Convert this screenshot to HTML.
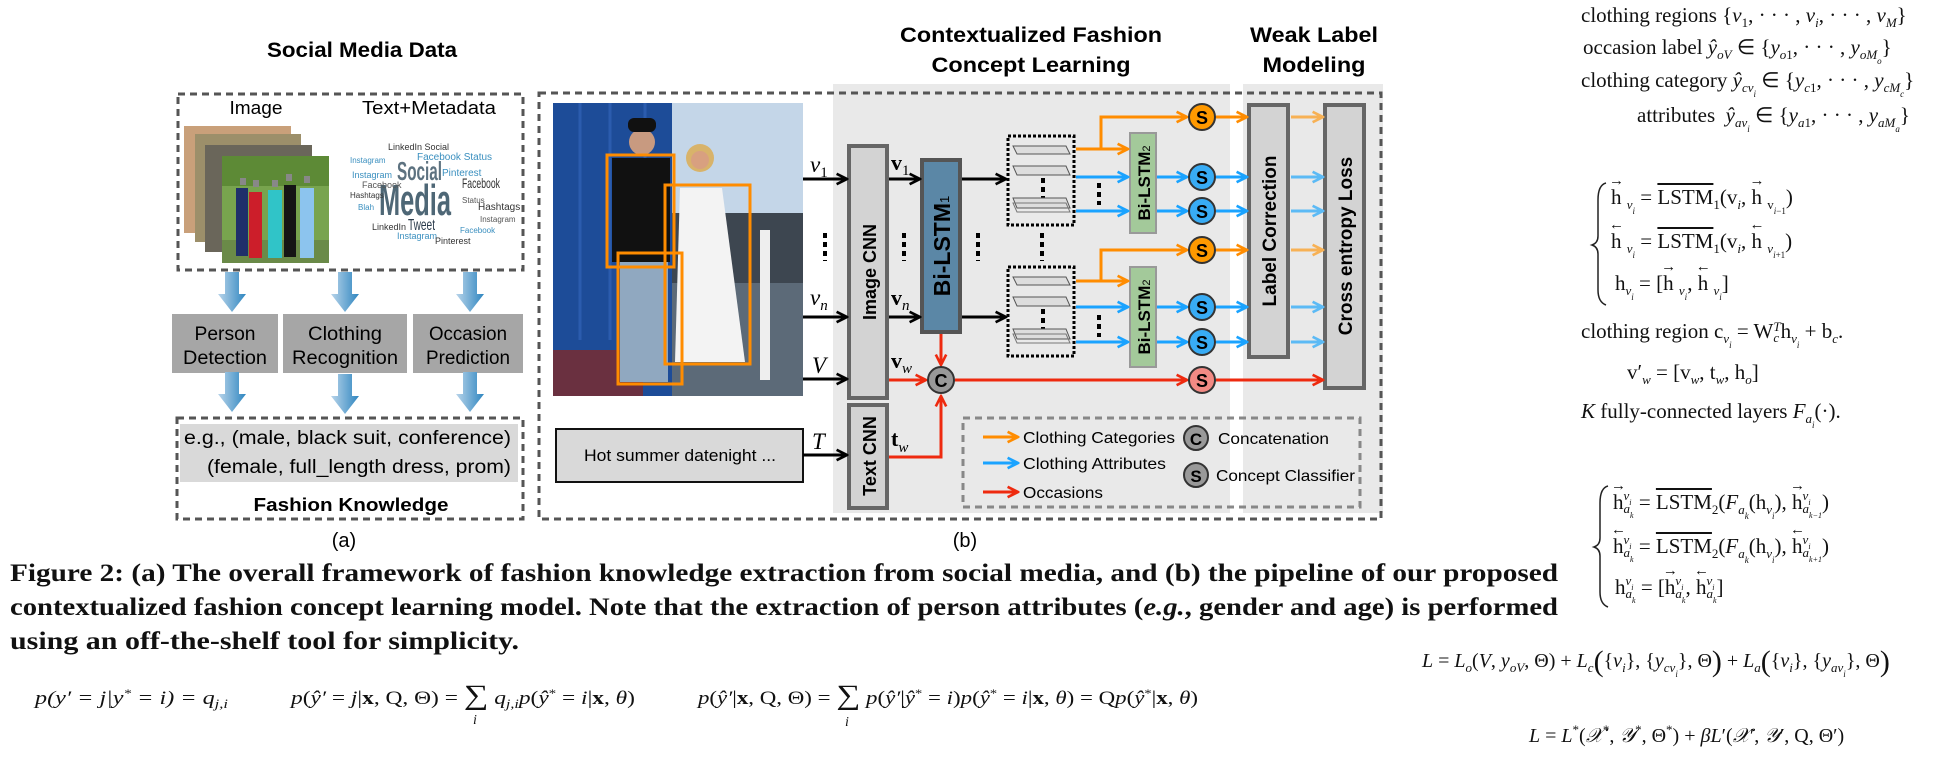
<!DOCTYPE html>
<html><head><meta charset="utf-8">
<style>
html,body{margin:0;padding:0;background:#fff;}
body{width:1956px;height:760px;position:relative;overflow:hidden;font-family:"Liberation Serif",serif;}
svg{position:absolute;left:0;top:0;}
.m{position:absolute;font-family:"Liberation Serif",serif;font-size:21px;color:#111;white-space:nowrap;line-height:1;}
.m sub{font-size:13px;vertical-align:-5px;line-height:0;}
.m sup{font-size:13px;vertical-align:8px;line-height:0;}
.ss{display:inline-block;vertical-align:-4px;line-height:11px;font-size:13px;font-style:italic;text-align:left;}
.v{position:relative;display:inline-block;}
.v::before{content:"\2192";position:absolute;left:-2px;top:-13px;font-size:15px;}
.lv{position:relative;display:inline-block;}
.lv::before{content:"\2190";position:absolute;left:-2px;top:-13px;font-size:15px;}
.ol{text-decoration:overline;}
</style></head>
<body>
<svg width="1956" height="760" viewBox="0 0 1956 760" xmlns="http://www.w3.org/2000/svg" font-family="Liberation Sans, Arial, sans-serif">
<defs>
<linearGradient id="bg" x1="0" x2="1" y1="0" y2="0"><stop offset="0" stop-color="#b8d4ea"/><stop offset="1" stop-color="#2f86c0"/></linearGradient>
<marker id="mk" viewBox="0 0 10 10" refX="9" refY="5" markerWidth="13" markerHeight="13" markerUnits="userSpaceOnUse" orient="auto"><path d="M1,1 L9,5 L1,9" fill="none" stroke="#000" stroke-width="2"/></marker>
<marker id="mr" viewBox="0 0 10 10" refX="9" refY="5" markerWidth="13" markerHeight="13" markerUnits="userSpaceOnUse" orient="auto"><path d="M1,1 L9,5 L1,9" fill="none" stroke="#ee2a0f" stroke-width="2"/></marker>
<marker id="mo" viewBox="0 0 10 10" refX="9" refY="5" markerWidth="13" markerHeight="13" markerUnits="userSpaceOnUse" orient="auto"><path d="M1,1 L9,5 L1,9" fill="none" stroke="#ff8c00" stroke-width="2"/></marker>
<marker id="mbl" viewBox="0 0 10 10" refX="9" refY="5" markerWidth="13" markerHeight="13" markerUnits="userSpaceOnUse" orient="auto"><path d="M1,1 L9,5 L1,9" fill="none" stroke="#1aa3ff" stroke-width="2"/></marker>
<marker id="mlo" viewBox="0 0 10 10" refX="9" refY="5" markerWidth="13" markerHeight="13" markerUnits="userSpaceOnUse" orient="auto"><path d="M1,1 L9,5 L1,9" fill="none" stroke="#f7b155" stroke-width="2"/></marker>
<marker id="mlb" viewBox="0 0 10 10" refX="9" refY="5" markerWidth="13" markerHeight="13" markerUnits="userSpaceOnUse" orient="auto"><path d="M1,1 L9,5 L1,9" fill="none" stroke="#5cbaf5" stroke-width="2"/></marker>
</defs>

<!-- ===== (a) ===== -->
<text x="362" y="57" text-anchor="middle" font-size="21" font-weight="bold" textLength="190" lengthAdjust="spacingAndGlyphs">Social Media Data</text>
<rect x="178" y="94" width="345" height="176" fill="none" stroke="#555" stroke-width="3" stroke-dasharray="7,5"/>
<text x="256" y="114" text-anchor="middle" font-size="18" textLength="53" lengthAdjust="spacingAndGlyphs">Image</text>
<text x="429" y="114" text-anchor="middle" font-size="18" textLength="134" lengthAdjust="spacingAndGlyphs">Text+Metadata</text>
<g>
<rect x="184" y="126" width="107" height="107" fill="#c9a07a"/>
<rect x="195" y="134" width="106" height="108" fill="#9c8f6a"/>
<rect x="205" y="145" width="107" height="107" fill="#6a665a"/>
<rect x="222" y="156" width="107" height="107" fill="#78a44e"/>
<rect x="222" y="156" width="107" height="30" fill="#5d8a36"/>
<rect x="222" y="240" width="107" height="23" fill="#6a8a48"/>
<rect x="236" y="188" width="12" height="68" fill="#1f2f6a"/>
<rect x="249" y="192" width="13" height="66" fill="#cc1e2a"/>
<rect x="268" y="190" width="14" height="68" fill="#30c4c8"/>
<rect x="284" y="185" width="12" height="72" fill="#151515"/>
<rect x="300" y="188" width="14" height="70" fill="#8cc4ee"/>
<rect x="240" y="178" width="6" height="7" fill="#888"/><rect x="253" y="180" width="6" height="7" fill="#888"/><rect x="272" y="180" width="6" height="7" fill="#888"/><rect x="286" y="174" width="6" height="7" fill="#888"/><rect x="304" y="176" width="6" height="7" fill="#888"/>
</g>
<g font-family="Liberation Sans Narrow, Liberation Sans, sans-serif">
<text x="397" y="180" font-size="26" font-weight="bold" fill="#5d7280" textLength="45" lengthAdjust="spacingAndGlyphs">Social</text>
<text x="379" y="215" font-size="44" font-weight="bold" fill="#4e6776" textLength="72" lengthAdjust="spacingAndGlyphs">Media</text>
<text x="462" y="188" font-size="14" fill="#333" textLength="38" lengthAdjust="spacingAndGlyphs">Facebook</text>
<text x="408" y="230" font-size="16" fill="#2a3a4a" textLength="27" lengthAdjust="spacingAndGlyphs">Tweet</text>
<text x="388" y="150" font-size="9" fill="#333">LinkedIn Social</text>
<text x="417" y="160" font-size="10" fill="#3a8fbf">Facebook Status</text>
<text x="442" y="176" font-size="10" fill="#3a8fbf">Pinterest</text>
<text x="350" y="163" font-size="8" fill="#3a8fbf">Instagram</text>
<text x="352" y="178" font-size="9" fill="#3a8fbf">Instagram</text>
<text x="362" y="188" font-size="9" fill="#555">Facebook</text>
<text x="350" y="198" font-size="8" fill="#333">Hashtags</text>
<text x="478" y="210" font-size="10" fill="#333">Hashtags</text>
<text x="372" y="230" font-size="9" fill="#333">LinkedIn</text>
<text x="397" y="239" font-size="9" fill="#3a8fbf">Instagram</text>
<text x="435" y="244" font-size="9" fill="#333">Pinterest</text>
<text x="462" y="203" font-size="8" fill="#555">Status</text>
<text x="480" y="222" font-size="8" fill="#555">Instagram</text>
<text x="460" y="233" font-size="8" fill="#3a8fbf">Facebook</text>
<text x="358" y="210" font-size="8" fill="#3a8fbf">Blah</text>
</g>
<g fill="url(#bg)">
<polygon points="225,272 239,272 239,294 246,294 232,312 218,294 225,294"/>
<polygon points="338,272 352,272 352,294 359,294 345,312 331,294 338,294"/>
<polygon points="463,272 477,272 477,294 484,294 470,312 456,294 463,294"/>
</g>
<g><rect x="172" y="314" width="106" height="59" fill="#a6a6a6"/>
<text x="225" y="340" text-anchor="middle" font-size="19" textLength="61" lengthAdjust="spacingAndGlyphs">Person</text><text x="225" y="364" text-anchor="middle" font-size="19" textLength="84" lengthAdjust="spacingAndGlyphs">Detection</text></g>
<g><rect x="283" y="314" width="124" height="59" fill="#a6a6a6"/>
<text x="345" y="340" text-anchor="middle" font-size="19" textLength="74" lengthAdjust="spacingAndGlyphs">Clothing</text><text x="345" y="364" text-anchor="middle" font-size="19" textLength="106" lengthAdjust="spacingAndGlyphs">Recognition</text></g>
<g><rect x="413" y="314" width="110" height="59" fill="#a6a6a6"/>
<text x="468" y="340" text-anchor="middle" font-size="19" textLength="78" lengthAdjust="spacingAndGlyphs">Occasion</text><text x="468" y="364" text-anchor="middle" font-size="19" textLength="84" lengthAdjust="spacingAndGlyphs">Prediction</text></g>
<g fill="url(#bg)">
<polygon points="225,372 239,372 239,394 246,394 232,412 218,394 225,394"/>
<polygon points="338,374 352,374 352,396 359,396 345,414 331,396 338,396"/>
<polygon points="463,372 477,372 477,394 484,394 470,412 456,394 463,394"/>
</g>
<rect x="177" y="418" width="346" height="101" fill="none" stroke="#555" stroke-width="3" stroke-dasharray="7,5"/>
<rect x="180" y="424" width="338" height="58" fill="#d9d9d9"/>
<text x="184" y="444" font-size="19" textLength="327" lengthAdjust="spacingAndGlyphs">e.g., (male, black suit, conference)</text>
<text x="207" y="473" font-size="19" textLength="304" lengthAdjust="spacingAndGlyphs">(female, full_length dress, prom)</text>
<text x="351" y="511" text-anchor="middle" font-size="18" font-weight="bold" textLength="195" lengthAdjust="spacingAndGlyphs">Fashion Knowledge</text>
<text x="344" y="547" text-anchor="middle" font-size="20">(a)</text>

<!-- ===== (b) ===== -->
<rect x="833" y="84" width="397" height="429" fill="#e9e9e9"/>
<rect x="1243" y="84" width="140" height="429" fill="#e9e9e9"/>
<rect x="539" y="93" width="842" height="426" fill="none" stroke="#555" stroke-width="3" stroke-dasharray="7,5"/>
<text text-anchor="middle" font-size="21" font-weight="bold"><tspan x="1031" y="42" textLength="262" lengthAdjust="spacingAndGlyphs">Contextualized Fashion</tspan><tspan x="1031" y="72" textLength="199" lengthAdjust="spacingAndGlyphs">Concept Learning</tspan></text>
<text text-anchor="middle" font-size="21" font-weight="bold"><tspan x="1314" y="42" textLength="128" lengthAdjust="spacingAndGlyphs">Weak Label</tspan><tspan x="1314" y="72" textLength="103" lengthAdjust="spacingAndGlyphs">Modeling</tspan></text>

<g>
<rect x="553" y="103" width="250" height="293" fill="#8aa6c4"/>
<rect x="672" y="103" width="131" height="110" fill="#c4d6e8"/>
<rect x="672" y="213" width="131" height="70" fill="#3d4650"/>
<rect x="672" y="283" width="131" height="113" fill="#5c6a78"/>
<rect x="553" y="103" width="119" height="293" fill="#1d4c98"/>
<rect x="553" y="350" width="90" height="46" fill="#6a3040"/>
<line x1="580" y1="103" x2="580" y2="340" stroke="#2b5cae" stroke-width="3"/><line x1="610" y1="103" x2="610" y2="340" stroke="#2b5cae" stroke-width="3"/><line x1="645" y1="103" x2="645" y2="340" stroke="#2b5cae" stroke-width="3"/>
<rect x="760" y="230" width="10" height="150" fill="#eee"/>
<circle cx="642" cy="142" r="13" fill="#c89a80"/><rect x="628" y="118" width="28" height="14" rx="6" fill="#111"/>
<rect x="612" y="158" width="58" height="104" fill="#111"/>
<rect x="620" y="262" width="48" height="120" fill="#90a8c0"/>
<circle cx="700" cy="158" r="14" fill="#d8b36a"/><circle cx="700" cy="160" r="9" fill="#d8a080"/>
<path d="M680,188 L722,188 L745,362 L675,362 Z" fill="#f3f3f3"/>
</g>
<g fill="none" stroke="#ff8c00" stroke-width="3">
<rect x="607" y="155" width="67" height="112"/>
<rect x="618" y="253" width="64" height="131"/>
<rect x="665" y="185" width="85" height="179"/>
</g>
<g><rect x="556" y="429" width="247" height="53" fill="#d9d9d9" stroke="#111" stroke-width="2"/>
<text x="680" y="461" text-anchor="middle" font-size="17" textLength="192" lengthAdjust="spacingAndGlyphs">Hot summer datenight ...</text></g>

<g font-family="Liberation Serif, serif" font-style="italic" font-size="23">
<text x="810" y="172">v<tspan font-size="15" dy="5" font-style="normal">1</tspan></text>
<text x="810" y="305">v<tspan font-size="15" dy="5">n</tspan></text>
<text x="812" y="373">V</text>
<text x="812" y="449">T</text>
</g>
<g font-family="Liberation Serif, serif" font-size="22" font-weight="bold">
<text x="891" y="170">v<tspan font-size="15" dy="5" font-weight="normal">1</tspan></text>
<text x="891" y="305">v<tspan font-size="15" dy="5" font-weight="normal" font-style="italic">n</tspan></text>
<text x="891" y="368">v<tspan font-size="15" dy="5" font-weight="normal" font-style="italic">w</tspan></text>
<text x="891" y="446">t<tspan font-size="15" dy="6" font-weight="normal" font-style="italic">w</tspan></text>
</g>

<g stroke="#000" stroke-width="4" stroke-dasharray="5,4">
<line x1="825" y1="233" x2="825" y2="261"/><line x1="904" y1="233" x2="904" y2="261"/><line x1="978" y1="233" x2="978" y2="261"/><line x1="1042" y1="233" x2="1042" y2="261"/>
<line x1="1099" y1="183" x2="1099" y2="205"/><line x1="1099" y1="315" x2="1099" y2="337"/>
<line x1="1043" y1="178" x2="1043" y2="198"/><line x1="1043" y1="309" x2="1043" y2="329"/>
</g>

<g><rect x="849" y="146" width="38" height="252" fill="#d3d3d3" stroke="#666" stroke-width="4"/>
<text transform="translate(876,272) rotate(-90)" text-anchor="middle" font-size="18" font-weight="bold">Image CNN</text></g>
<g><rect x="849" y="405" width="38" height="103" fill="#d3d3d3" stroke="#666" stroke-width="4"/>
<text transform="translate(876,456) rotate(-90)" text-anchor="middle" font-size="18" font-weight="bold">Text CNN</text></g>
<g><rect x="922" y="160" width="38" height="172" fill="#5b87a6" stroke="#555" stroke-width="4"/>
<text transform="translate(950,246) rotate(-90)" text-anchor="middle" font-size="23" font-weight="bold">Bi-LSTM<tspan font-size="13" font-weight="normal" dy="-1">1</tspan></text></g>

<g>
<rect x="1008" y="136" width="66" height="89" fill="none" stroke="#000" stroke-width="3" stroke-dasharray="3,2"/>
<polygon points="1017,154 1070,154 1066,146 1013,146" fill="#ddd" stroke="#555"/>
<polygon points="1017,175 1070,175 1066,166 1013,166" fill="#ddd" stroke="#555"/>
<polygon points="1017,208 1070,208 1066,198 1013,198" fill="#ddd" stroke="#555"/>
<polygon points="1017,212 1070,212 1066,203 1013,203" fill="none" stroke="#777"/>
</g>
<g>
<rect x="1008" y="267" width="66" height="89" fill="none" stroke="#000" stroke-width="3" stroke-dasharray="3,2"/>
<polygon points="1017,285 1070,285 1066,277 1013,277" fill="#ddd" stroke="#555"/>
<polygon points="1017,306 1070,306 1066,297 1013,297" fill="#ddd" stroke="#555"/>
<polygon points="1017,339 1070,339 1066,329 1013,329" fill="#ddd" stroke="#555"/>
<polygon points="1017,343 1070,343 1066,334 1013,334" fill="none" stroke="#777"/>
</g>
<g><rect x="1130" y="133" width="26" height="100" fill="#a3c99a" stroke="#999" stroke-width="2"/>
<text transform="translate(1150,183) rotate(-90)" text-anchor="middle" font-size="17" font-weight="bold">Bi-LSTM<tspan font-size="11" font-weight="normal">2</tspan></text></g>
<g><rect x="1130" y="267" width="26" height="100" fill="#a3c99a" stroke="#999" stroke-width="2"/>
<text transform="translate(1150,317) rotate(-90)" text-anchor="middle" font-size="17" font-weight="bold">Bi-LSTM<tspan font-size="11" font-weight="normal">2</tspan></text></g>
<g><rect x="1249" y="105" width="39" height="252" fill="#d3d3d3" stroke="#666" stroke-width="4"/>
<text transform="translate(1276,231) rotate(-90)" text-anchor="middle" font-size="19" font-weight="bold">Label Correction</text></g>
<g><rect x="1325" y="105" width="39" height="283" fill="#d3d3d3" stroke="#666" stroke-width="4"/>
<text transform="translate(1352,246) rotate(-90)" text-anchor="middle" font-size="19" font-weight="bold">Cross entropy Loss</text></g>

<!-- arrows -->
<g stroke="#000" stroke-width="3" fill="none" marker-end="url(#mk)">
<line x1="803" y1="179" x2="847" y2="179"/><line x1="803" y1="317" x2="847" y2="317"/><line x1="803" y1="379" x2="847" y2="379"/><line x1="803" y1="455" x2="847" y2="455"/>
<line x1="889" y1="179" x2="920" y2="179"/><line x1="889" y1="317" x2="920" y2="317"/>
<line x1="962" y1="179" x2="1006" y2="179"/><line x1="962" y1="317" x2="1006" y2="317"/>
</g>
<g stroke="#ee2a0f" stroke-width="3" fill="none" marker-end="url(#mr)">
<line x1="889" y1="380" x2="926" y2="380"/><line x1="941" y1="334" x2="941" y2="365"/>
<path d="M889,457 H941 V396"/><line x1="955" y1="380" x2="1187" y2="380"/><line x1="1216" y1="380" x2="1323" y2="380"/>
</g>
<g stroke="#ff8c00" stroke-width="3" fill="none" marker-end="url(#mo)">
<line x1="1076" y1="149" x2="1128" y2="149"/><path d="M1101,149 V117 H1187"/><line x1="1216" y1="117" x2="1247" y2="117"/>
<line x1="1076" y1="281" x2="1128" y2="281"/><path d="M1101,281 V250 H1187"/><line x1="1216" y1="250" x2="1247" y2="250"/>
</g>
<g stroke="#1aa3ff" stroke-width="3" fill="none" marker-end="url(#mbl)">
<line x1="1076" y1="177" x2="1128" y2="177"/><line x1="1076" y1="211" x2="1128" y2="211"/><line x1="1076" y1="307" x2="1128" y2="307"/><line x1="1076" y1="342" x2="1128" y2="342"/>
<line x1="1157" y1="177" x2="1187" y2="177"/><line x1="1157" y1="211" x2="1187" y2="211"/><line x1="1157" y1="307" x2="1187" y2="307"/><line x1="1157" y1="342" x2="1187" y2="342"/>
<line x1="1216" y1="177" x2="1247" y2="177"/><line x1="1216" y1="211" x2="1247" y2="211"/><line x1="1216" y1="307" x2="1247" y2="307"/><line x1="1216" y1="342" x2="1247" y2="342"/>
</g>
<g stroke-width="3" fill="none">
<line x1="1291" y1="117" x2="1323" y2="117" stroke="#f7b155" marker-end="url(#mlo)"/><line x1="1291" y1="250" x2="1323" y2="250" stroke="#f7b155" marker-end="url(#mlo)"/>
<line x1="1291" y1="177" x2="1323" y2="177" stroke="#5cbaf5" marker-end="url(#mlb)"/><line x1="1291" y1="211" x2="1323" y2="211" stroke="#5cbaf5" marker-end="url(#mlb)"/>
<line x1="1291" y1="307" x2="1323" y2="307" stroke="#5cbaf5" marker-end="url(#mlb)"/><line x1="1291" y1="342" x2="1323" y2="342" stroke="#5cbaf5" marker-end="url(#mlb)"/>
</g>
<g><circle cx="941" cy="380" r="13" fill="#999" stroke="#333" stroke-width="2"/><text x="941" y="387" text-anchor="middle" font-size="18" font-weight="bold">C</text></g>
<g stroke="#333" stroke-width="2" font-size="18" font-weight="bold" text-anchor="middle">
<circle cx="1202" cy="117" r="13" fill="#ff9900"/><circle cx="1202" cy="177" r="13" fill="#38acf5"/><circle cx="1202" cy="211" r="13" fill="#38acf5"/>
<circle cx="1202" cy="250" r="13" fill="#ff9900"/><circle cx="1202" cy="307" r="13" fill="#38acf5"/><circle cx="1202" cy="342" r="13" fill="#38acf5"/><circle cx="1202" cy="380" r="13" fill="#f28a84"/>
<g stroke="none"><text x="1202" y="124">S</text><text x="1202" y="184">S</text><text x="1202" y="218">S</text><text x="1202" y="257">S</text><text x="1202" y="314">S</text><text x="1202" y="349">S</text><text x="1202" y="387">S</text></g>
</g>

<g>
<rect x="963" y="418" width="397" height="89" fill="none" stroke="#888" stroke-width="3" stroke-dasharray="7,5"/>
<line x1="983" y1="437" x2="1018" y2="437" stroke="#ff8c00" stroke-width="3" marker-end="url(#mo)"/>
<line x1="983" y1="463" x2="1018" y2="463" stroke="#1aa3ff" stroke-width="3" marker-end="url(#mbl)"/>
<line x1="983" y1="492" x2="1018" y2="492" stroke="#ee2a0f" stroke-width="3" marker-end="url(#mr)"/>
<text x="1023" y="443" font-size="16" textLength="152" lengthAdjust="spacingAndGlyphs">Clothing Categories</text>
<text x="1023" y="469" font-size="16" textLength="143" lengthAdjust="spacingAndGlyphs">Clothing Attributes</text>
<text x="1023" y="498" font-size="16" textLength="80" lengthAdjust="spacingAndGlyphs">Occasions</text>
<circle cx="1196" cy="438" r="12" fill="#999" stroke="#333" stroke-width="2"/><text x="1196" y="445" text-anchor="middle" font-size="17" font-weight="bold">C</text>
<circle cx="1196" cy="475" r="12" fill="#999" stroke="#333" stroke-width="2"/><text x="1196" y="482" text-anchor="middle" font-size="17" font-weight="bold">S</text>
<text x="1218" y="444" font-size="16" textLength="111" lengthAdjust="spacingAndGlyphs">Concatenation</text>
<text x="1216" y="481" font-size="16" textLength="139" lengthAdjust="spacingAndGlyphs">Concept Classifier</text>
</g>
<text x="965" y="547" text-anchor="middle" font-size="20">(b)</text>

<!-- caption -->
<g font-family="Liberation Serif, serif" font-weight="bold" font-size="25" fill="#111">
<text x="10" y="581" textLength="1548" lengthAdjust="spacingAndGlyphs">Figure 2: (a) The overall framework of fashion knowledge extraction from social media, and (b) the pipeline of our proposed</text>
<text x="10" y="615" textLength="1548" lengthAdjust="spacingAndGlyphs">contextualized fashion concept learning model. Note that the extraction of person attributes (<tspan font-style="italic">e.g.</tspan>, gender and age) is performed</text>
<text x="10" y="649" textLength="509" lengthAdjust="spacingAndGlyphs">using an off-the-shelf tool for simplicity.</text>
</g>

<!-- bottom formulas -->
<g font-family="Liberation Serif, serif" font-size="19" fill="#111">
<text x="35" y="704" font-style="italic" textLength="193" lengthAdjust="spacingAndGlyphs">p(y′ = j|y<tspan font-size="12" dy="-7">*</tspan><tspan dy="7"> = i) = q</tspan><tspan font-size="13" dy="4">j,i</tspan></text>
<text x="291" y="704" textLength="344" lengthAdjust="spacingAndGlyphs"><tspan font-style="italic">p</tspan>(<tspan font-style="italic">ŷ′</tspan> = <tspan font-style="italic">j</tspan>|<tspan font-weight="bold">x</tspan>, Q, Θ) = <tspan font-size="28">∑</tspan> <tspan font-style="italic">q</tspan><tspan font-size="13" dy="4" font-style="italic">j,i</tspan><tspan dy="-4" font-style="italic">p</tspan>(<tspan font-style="italic">ŷ</tspan><tspan font-size="12" dy="-7">*</tspan><tspan dy="7"> = </tspan><tspan font-style="italic">i</tspan>|<tspan font-weight="bold">x</tspan>, <tspan font-style="italic">θ</tspan>)</text>
<text x="473" y="724" font-style="italic" font-size="14">i</text>
<text x="698" y="704" textLength="500" lengthAdjust="spacingAndGlyphs"><tspan font-style="italic">p</tspan>(<tspan font-style="italic">ŷ′</tspan>|<tspan font-weight="bold">x</tspan>, Q, Θ) = <tspan font-size="28">∑</tspan> <tspan font-style="italic">p</tspan>(<tspan font-style="italic">ŷ′</tspan>|<tspan font-style="italic">ŷ</tspan><tspan font-size="12" dy="-7">*</tspan><tspan dy="7"> = </tspan><tspan font-style="italic">i</tspan>)<tspan font-style="italic">p</tspan>(<tspan font-style="italic">ŷ</tspan><tspan font-size="12" dy="-7">*</tspan><tspan dy="7"> = </tspan><tspan font-style="italic">i</tspan>|<tspan font-weight="bold">x</tspan>, <tspan font-style="italic">θ</tspan>) = Q<tspan font-style="italic">p</tspan>(<tspan font-style="italic">ŷ</tspan><tspan font-size="12" dy="-7">*</tspan><tspan dy="7">|</tspan><tspan font-weight="bold">x</tspan>, <tspan font-style="italic">θ</tspan>)</text>
<text x="845" y="726" font-style="italic" font-size="14">i</text>
</g>

<!-- braces -->
<g fill="none" stroke="#222" stroke-width="1.5">
<path d="M1606,183 Q1598,185 1598,200 L1598,236 Q1598,243 1592,245 Q1598,247 1598,254 L1598,290 Q1598,302 1606,305"/>
<path d="M1608,486 Q1600,488 1600,503 L1600,538 Q1600,545 1594,547 Q1600,549 1600,556 L1600,592 Q1600,604 1608,607"/>
</g>
</svg>

<!-- right-side math -->
<div class="m" style="left:1581px;top:5px;">clothing regions {<i>v</i><sub>1</sub>, · · · , <i>v<sub>i</sub></i>, · · · , <i>v<sub>M</sub></i>}</div>
<div class="m" style="left:1583px;top:37px;">occasion label <i>ŷ<sub>oV</sub></i> ∈ {<i>y</i><sub><i>o</i>1</sub>, · · · , <i>y</i><sub><i>oM<sub style="font-size:9px">o</sub></i></sub>}</div>
<div class="m" style="left:1581px;top:70px;">clothing category <i>ŷ</i><sub><i>cv<sub style="font-size:9px">i</sub></i></sub> ∈ {<i>y</i><sub><i>c</i>1</sub>, · · · , <i>y</i><sub><i>cM<sub style="font-size:9px">c</sub></i></sub>}</div>
<div class="m" style="left:1637px;top:105px;">attributes &nbsp;<i>ŷ</i><sub><i>av<sub style="font-size:9px">i</sub></i></sub> ∈ {<i>y</i><sub><i>a</i>1</sub>, · · · , <i>y</i><sub><i>aM<sub style="font-size:9px">a</sub></i></sub>}</div>

<div class="m" style="left:1611px;top:187px;"><span class="v">h</span> <sub><i>v<sub style="font-size:9px">i</sub></i></sub> = <span class="ol">LSTM</span><sub>1</sub>(v<sub><i>i</i></sub>, <span class="v">h</span> <sub>v<sub style="font-size:9px"><i>i</i>−1</sub></sub>)</div>
<div class="m" style="left:1611px;top:231px;"><span class="lv">h</span> <sub><i>v<sub style="font-size:9px">i</sub></i></sub> = <span class="ol">LSTM</span><sub>1</sub>(v<sub><i>i</i></sub>, <span class="lv">h</span> <sub><i>v</i><sub style="font-size:9px"><i>i</i>+1</sub></sub>)</div>
<div class="m" style="left:1615px;top:273px;">h<sub><i>v<sub style="font-size:9px">i</sub></i></sub> = [<span class="v">h</span> <sub><i>v<sub style="font-size:9px">i</sub></i></sub>, <span class="lv">h</span> <sub><i>v<sub style="font-size:9px">i</sub></i></sub>]</div>
<div class="m" style="left:1581px;top:321px;">clothing region c<sub><i>v<sub style="font-size:9px">i</sub></i></sub> = W<span class="ss"><i>T</i><br><i>c</i></span>h<sub><i>v<sub style="font-size:9px">i</sub></i></sub> + b<sub><i>c</i></sub>.</div>
<div class="m" style="left:1627px;top:362px;">v′<sub><i>w</i></sub> = [v<sub><i>w</i></sub>, t<sub><i>w</i></sub>, h<sub><i>o</i></sub>]</div>
<div class="m" style="left:1581px;top:401px;"><i>K</i> fully-connected layers <i>F</i><sub><i>a<sub style="font-size:9px">i</sub></i></sub>(·).</div>

<div class="m" style="left:1613px;top:490px;"><span class="v">h</span><span class="ss"><i>v<sub style="font-size:8px">i</sub></i><br><i>a<sub style="font-size:8px">k</sub></i></span> = <span class="ol">LSTM</span><sub>2</sub>(<i>F</i><sub><i>a<sub style="font-size:9px">k</sub></i></sub>(h<sub><i>v<sub style="font-size:9px">i</sub></i></sub>), <span class="v">h</span><span class="ss"><i>v<sub style="font-size:8px">i</sub></i><br><i>a</i><sub style="font-size:8px"><i>k</i>−1</sub></span>)</div>
<div class="m" style="left:1613px;top:534px;"><span class="lv">h</span><span class="ss"><i>v<sub style="font-size:8px">i</sub></i><br><i>a<sub style="font-size:8px">k</sub></i></span> = <span class="ol">LSTM</span><sub>2</sub>(<i>F</i><sub><i>a<sub style="font-size:9px">k</sub></i></sub>(h<sub><i>v<sub style="font-size:9px">i</sub></i></sub>), <span class="lv">h</span><span class="ss"><i>v<sub style="font-size:8px">i</sub></i><br><i>a</i><sub style="font-size:8px"><i>k</i>+1</sub></span>)</div>
<div class="m" style="left:1615px;top:575px;">h<span class="ss"><i>v<sub style="font-size:8px">i</sub></i><br><i>a<sub style="font-size:8px">k</sub></i></span> = [<span class="v">h</span><span class="ss"><i>v<sub style="font-size:8px">i</sub></i><br><i>a<sub style="font-size:8px">k</sub></i></span>, <span class="lv">h</span><span class="ss"><i>v<sub style="font-size:8px">i</sub></i><br><i>a<sub style="font-size:8px">k</sub></i></span>]</div>

<div class="m" style="left:1422px;top:647px;font-size:20px;"><i>L</i> = <i>L<sub>o</sub></i>(<i>V</i>, <i>y<sub>oV</sub></i>, Θ) + <i>L<sub>c</sub></i><span style="font-size:30px;vertical-align:-4px">(</span>{<i>v<sub>i</sub></i>}, {<i>y</i><sub><i>cv<sub style="font-size:9px">i</sub></i></sub>}, Θ<span style="font-size:30px;vertical-align:-4px">)</span> + <i>L<sub>a</sub></i><span style="font-size:30px;vertical-align:-4px">(</span>{<i>v<sub>i</sub></i>}, {<i>y</i><sub><i>av<sub style="font-size:9px">i</sub></i></sub>}, Θ<span style="font-size:30px;vertical-align:-4px">)</span></div>
<div class="m" style="left:1529px;top:726px;font-size:20px;"><i>L</i> = <i>L</i><sup>*</sup>(<i>𝒳</i><sup>*</sup>, <i>𝒴</i><sup>*</sup>, Θ<sup>*</sup>) + <i>βL</i>′(<i>𝒳</i>′, <i>𝒴</i>′, Q, Θ′)</div>
</body></html>
